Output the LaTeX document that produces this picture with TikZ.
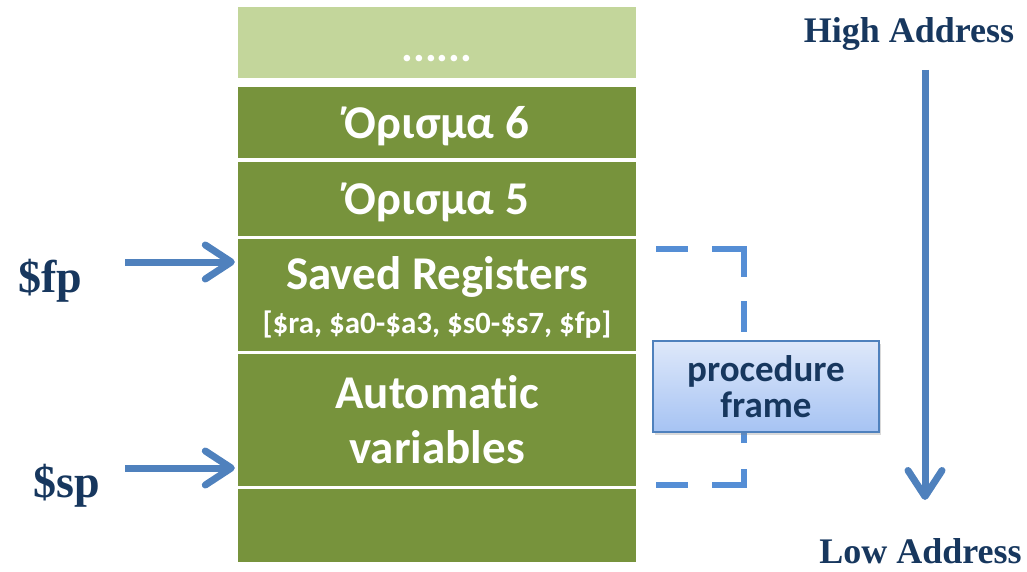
\documentclass[tikz,border=0pt]{standalone}
\usepackage{fontspec}
\setmainfont{Liberation Serif}
\newfontfamily\slotfont[Ligatures=NoCommon]{Carlito}
\usetikzlibrary{arrows.meta,shadows}
\definecolor{slotdark}{HTML}{77933C}
\definecolor{slotlight}{HTML}{C3D69B}
\definecolor{ptrblue}{HTML}{4F81BD}
\definecolor{dashblue}{HTML}{558ED5}
\definecolor{labelnavy}{HTML}{17375E}
\definecolor{frameedge}{HTML}{4F81BD}
\definecolor{frametop}{HTML}{DEE8FA}
\definecolor{framebottom}{HTML}{A6C3F3}
\tikzset{
  slot/.style={fill=slotdark, minimum width=398pt, inner sep=0pt, text=white,
    align=center, font=\slotfont\bfseries\fontsize{47}{55}\selectfont},
  ptr/.style={draw=ptrblue, line width=7pt, -{Straight Barb[length=26pt,width=34pt,round]}},
  reg/.style={text=labelnavy, font=\bfseries\fontsize{46}{50}\selectfont, inner sep=0pt},
  addr/.style={text=labelnavy, font=\bfseries\fontsize{36}{40}\selectfont, inner sep=0pt},
  bracket/.style={draw=dashblue, line width=6pt},
}
\begin{document}
\begin{tikzpicture}[x=1pt,y=-1pt]
  \useasboundingbox (0,0) rectangle (1027,572);
  % stack slots
  \node[slot, fill=slotlight, minimum height=71pt] (more) at (437,42.5) {};
  \node[slot, minimum height=71pt, text depth=-4pt] (arg6) at (437,122.5) {Όρισμα 6};
  \node[slot, minimum height=74pt, text depth=-4pt] (arg5) at (437,199) {Όρισμα 5};
  \node[slot, minimum height=112pt, text depth=0pt] (saved) at (437,295)
    {Saved Registers\\[-11pt]{\fontsize{31}{36}\selectfont [\$ra, \$a0-\$a3, \$s0-\$s7, \$fp]}};
  \node[slot, minimum height=132pt] (auto) at (437,420) {Automatic\\variables};
  \node[slot, minimum height=73pt] (bottom) at (437,525.5) {};
  \node[text=white, font=\slotfont\bfseries\fontsize{44}{46}\selectfont, anchor=base, inner sep=0pt]
    (dots) at (437,62) {......};
  % frame and stack pointers
  \coordinate (fptail) at (125,262);
  \draw[ptr, shorten >=3pt] (fptail) -- (saved.west |- fptail);
  \node[reg, anchor=base] (fp) at (50,292) {\$fp};
  \coordinate (sptail) at (125,468);
  \draw[ptr, shorten >=3pt] (sptail) -- (auto.west |- sptail);
  \node[reg, anchor=base] (sp) at (66.5,497) {\$sp};
  % address direction
  \node[addr, anchor=base] (high) at (909,43) {High Address};
  \node[addr, anchor=base] (low) at (920.5,563) {Low Address};
  \coordinate (downtop) at (925,70);
  \coordinate (downtip) at (925,500);
  \draw[ptr] (downtop) -- (downtip);
  % procedure frame bracket
  \draw[bracket, dash pattern=on 32pt off 24pt on 60.5pt off 24pt on 31pt off 100pt]
    (656,248.5) -- (744,248.5) -- (744,380);
  \draw[bracket, dash pattern=on 32pt off 24pt on 48pt off 26pt on 10pt off 100pt]
    (656,485) -- (744,485) -- (744,380);
  \node[draw=frameedge, line width=2pt, top color=frametop, bottom color=framebottom,
    minimum width=226pt, minimum height=91pt, inner sep=0pt,
    drop shadow={opacity=0.3, shadow xshift=2pt, shadow yshift=-3pt},
    text=labelnavy, align=center, font=\slotfont\bfseries\fontsize{37}{36}\selectfont]
    (frame) at (766,386.5) {procedure\\frame};
\end{tikzpicture}
\end{document}
